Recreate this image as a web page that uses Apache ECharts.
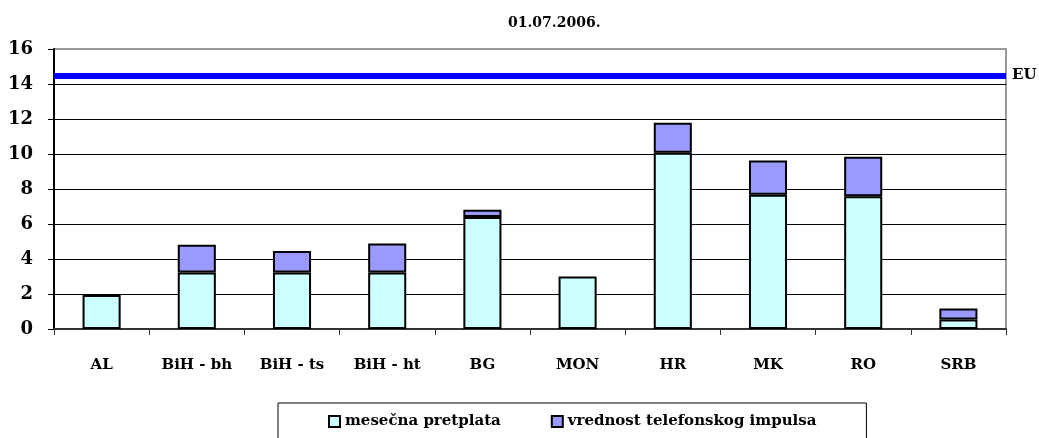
<!DOCTYPE html>
<html>
<head>
<meta charset="utf-8">
<script src="https://cdn.jsdelivr.net/npm/echarts@6/dist/echarts.min.js"></script>
<style>
  html, body { margin: 0; padding: 0; background: #fff; }
  #main { width: 1039px; height: 438px; }
</style>
</head>
<body>
<div id="main"></div>
<script>
// podaci
const categories = ['AL', 'BiH - bh', 'BiH - ts', 'BiH - ht', 'BG', 'MON', 'HR', 'MK', 'RO', 'SRB'];
const pretplata = [1.95, 3.23, 3.23, 3.23, 6.4, 3.0, 10.07, 7.67, 7.59, 0.55];
const impuls = [0, 1.59, 1.23, 1.65, 0.42, 0, 1.71, 1.96, 2.25, 0.62];
const euValue = 14.5;
const yTicks = { min: 0, max: 16, interval: 2 };

const font = 'DejaVu Serif';

// nula se ne crta (inace ostaje debela ivica na vrhu stupca)
const impulsData = impuls.map(v => (v === 0 ? '-' : v));

let chart = echarts.init(document.getElementById('main'));
chart.setOption({
  animation: false,
  title: {
    text: '01.07.2006.',
    left: 503,
    top: 11,
    textStyle: { fontFamily: font, fontSize: 14, fontWeight: 'bold', color: '#000' }
  },
  grid: {
    left: 54,
    right: 33,
    top: 49,
    bottom: 109,
    show: true,
    borderColor: '#999',
    borderWidth: 2
  },
  legend: {
    left: 278,
    top: 403,
    padding: [11, 50, 14, 50],
    itemGap: 50,
    borderColor: '#000',
    borderWidth: 1,
    icon: 'rect',
    itemWidth: 11,
    itemHeight: 11,
    textStyle: { fontFamily: font, fontSize: 15, fontWeight: 'bold', color: '#000' },
    data: ['mesečna pretplata', 'vrednost telefonskog impulsa']
  },
  xAxis: {
    type: 'category',
    data: categories,
    axisLine: { lineStyle: { color: '#333', width: 2 } },
    axisTick: { show: true, length: 6, lineStyle: { color: '#333' } },
    axisLabel: {
      margin: 29,
      fontFamily: font,
      fontSize: 15,
      fontWeight: 'bold',
      color: '#000'
    }
  },
  yAxis: {
    type: 'value',
    min: yTicks.min,
    max: yTicks.max,
    interval: yTicks.interval,
    axisLine: { show: true, lineStyle: { color: '#000', width: 2 } },
    axisTick: { show: true, length: 6, lineStyle: { color: '#000' } },
    splitLine: {
      lineStyle: {
        color: ['#000', '#000', '#000', '#000', '#000', '#000', '#000', '#000', '#999'],
        width: 1
      }
    },
    axisLabel: {
      margin: 21,
      fontFamily: font,
      fontSize: 18,
      fontWeight: 'bold',
      color: '#000'
    }
  },
  series: [
    {
      name: 'mesečna pretplata',
      type: 'bar',
      stack: 'ukupno',
      barWidth: '40%',
      data: pretplata,
      itemStyle: { color: '#ccffff', borderColor: '#000', borderWidth: 2 },
      markLine: {
        symbol: 'none',
        silent: true,
        data: [{ yAxis: euValue }],
        lineStyle: { color: '#0000ff', width: 6, type: 'solid' },
        label: {
          show: true,
          position: 'end',
          formatter: 'EU',
          distance: 6,
          fontFamily: font,
          fontSize: 15,
          fontWeight: 'bold',
          color: '#000'
        }
      }
    },
    {
      name: 'vrednost telefonskog impulsa',
      type: 'bar',
      stack: 'ukupno',
      barWidth: '40%',
      data: impulsData,
      itemStyle: { color: '#9999ff', borderColor: '#000', borderWidth: 2 }
    }
  ]
});
</script>
</body>
</html>
